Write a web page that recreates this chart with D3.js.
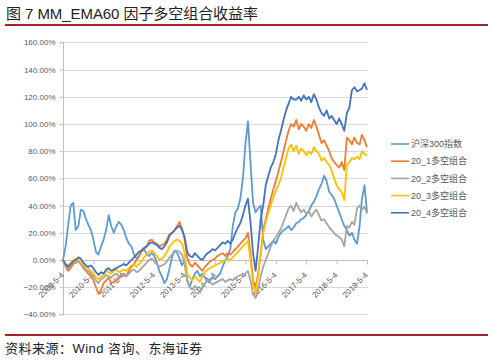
<!DOCTYPE html>
<html><head><meta charset="utf-8">
<script src="https://cdn.jsdelivr.net/npm/d3@7"></script>
<style>
html,body{margin:0;padding:0;background:#fff;}
svg{display:block;}
</style></head>
<body>
<svg id="chart" width="494" height="362"></svg>
<script>
// ---- data (monthly readings, 2009-05 .. 2019-05, values in %) ----
const startMonth = "2009-05";
const seriesNames = ["沪深300指数", "20_1多空组合", "20_2多空组合", "20_3多空组合", "20_4多空组合"];
const seriesColors = ["#5B9BD5", "#ED7D31", "#A5A5A5", "#FFC000", "#4472C4"];
const xTickLabels = ["2009-5-4","2010-5-4","2011-5-4","2012-5-4","2013-5-4","2014-5-4","2015-5-4","2016-5-4","2017-5-4","2018-5-4","2019-5-4"];
const yTicks = [-40, -20, 0, 20, 40, 60, 80, 100, 120, 140, 160];

const hs300 = [0,10,25,40,42,22,25,37,36,30,26,22,15,6,4,10,15,22,33,25,20,25,28,26,22,16,12,10,4,1,3,7,8,4,3,5,3,-2,-8,-12,-17,-14,-6,2,7,5,1,-4,0,-15,-20,-14,-10,-8,-12,-10,-13,-14,-15,-13,-14,-12,-10,-5,0,3,8,25,35,38,45,60,85,102,72,42,35,38,40,15,8,10,12,14,12,17,20,22,23,25,22,24,27,28,30,31,33,36,40,43,47,52,56,62,58,50,48,45,40,35,30,25,22,18,20,15,12,25,45,55,35];
const g1 = [0,-5,-8,-6,-3,-2,-1,-3,-6,-8,-10,-12,-15,-20,-25,-22,-17,-15,-13,-17,-16,-15,-13,-12,-10,-12,-8,-5,-3,0,3,6,8,10,14,15,13,12,10,11,12,15,19,20,22,25,28,23,15,2,-3,-5,-2,-4,-6,-8,-5,-3,-1,0,1,3,4,5,3,5,4,6,8,10,12,14,16,20,5,-15,-20,-10,5,22,30,38,45,52,58,65,72,80,88,95,100,98,103,96,100,98,95,100,97,103,98,92,86,88,84,80,75,72,70,68,72,66,90,88,85,90,86,85,92,88,83];
const g2 = [0,-4,-6,-4,-1,0,-1,-3,-5,-7,-8,-10,-12,-15,-17,-14,-13,-11,-12,-13,-11,-10,-12,-11,-10,-12,-10,-8,-7,-9,-8,-6,-4,-2,0,1,-1,-3,-5,-4,-3,-1,2,4,6,7,6,4,-3,-15,-20,-22,-19,-21,-24,-20,-17,-15,-16,-18,-17,-16,-15,-14,-16,-15,-14,-15,-13,-12,-11,-12,-10,-8,-15,-25,-28,-22,-12,-5,0,5,10,14,17,20,23,28,33,38,40,36,42,38,35,37,34,36,32,35,37,33,29,30,27,24,22,20,18,17,15,10,25,24,28,26,38,40,37,39,34];
const g3 = [0,-3,-4,-2,0,1,0,-2,-3,-5,-6,-8,-10,-13,-14,-12,-11,-8,-9,-10,-8,-7,-9,-8,-7,-8,-6,-4,-3,-5,-3,-1,2,4,6,7,5,3,0,1,3,6,10,12,14,15,14,12,5,-10,-13,-15,-12,-14,-16,-12,-9,-7,-6,-5,-4,-3,-2,-1,0,1,0,2,4,6,8,10,12,14,0,-18,-24,-12,5,20,28,35,40,46,51,55,60,68,75,82,85,80,84,78,82,80,77,80,78,83,80,78,73,75,72,70,66,60,55,52,50,44,70,72,75,74,76,74,80,78,77];
const g4 = [0,-3,-5,-3,-1,0,2,1,-2,-4,-5,-4,-6,-9,-11,-9,-10,-7,-6,-8,-7,-6,-5,-4,-3,-4,-2,0,2,4,6,7,9,10,12,13,12,11,9,8,10,13,18,20,22,24,25,22,17,6,3,2,5,3,1,0,3,5,6,8,7,9,11,13,12,14,12,15,20,24,27,33,40,45,28,5,-8,10,30,40,55,62,68,72,78,88,95,103,110,115,120,118,118,120,117,121,118,120,116,122,118,112,108,106,110,104,106,103,100,104,100,95,108,112,125,127,124,125,126,130,125];
const seriesValues = [hs300, g1, g2, g3, g4];

// ---- layout ----
const svg = d3.select("#chart");
const plot = {left: 63, right: 367, top: 42.4, bottom: 314.4};
const tickDates = xTickLabels.map(s => { const p = s.split("-"); return new Date(+p[0], +p[1]-1, +p[2]); });
const x = d3.scaleTime().domain([tickDates[0], tickDates[tickDates.length-1]]).range([plot.left, plot.right]);
const y = d3.scaleLinear().domain([-40, 160]).range([plot.bottom, plot.top]);

const m0 = d3.timeParse("%Y-%m")(startMonth);
const dates = hs300.map((_, i) => new Date(m0.getFullYear(), m0.getMonth() + i, 4));

// title
svg.append("text").attr("x", 6).attr("y", 18.5)
  .attr("font-family", "'Liberation Sans','Noto Sans CJK SC',sans-serif")
  .attr("font-size", 15).attr("fill", "#222")
  .attr("textLength", 252).attr("lengthAdjust", "spacing")
  .text("图 7 MM_EMA60 因子多空组合收益率");
svg.append("rect").attr("x", 5).attr("y", 24).attr("width", 483).attr("height", 2).attr("fill", "#A8202A");

// gridlines
svg.append("g").selectAll("line").data(yTicks.filter(v => v !== 0)).join("line")
  .attr("x1", plot.left).attr("x2", plot.right + 1)
  .attr("y1", d => Math.round(y(d)) + 0.5).attr("y2", d => Math.round(y(d)) + 0.5)
  .attr("stroke", "#d9d9d9").attr("stroke-width", 1);

// y axis
const yAxis = d3.axisLeft(y).tickValues(yTicks).tickSize(4).tickPadding(4)
  .tickFormat(d => d3.format(".2f")(d) + "%");
const gy = svg.append("g").attr("transform", `translate(${plot.left + 0.5},0)`).call(yAxis);
gy.select(".domain").attr("stroke", "#bfbfbf").attr("d", `M-4,${y(160)}H0V${y(-40)}H-4`);
gy.selectAll(".tick line").attr("stroke", "#bfbfbf");
gy.selectAll(".tick text").attr("font-family", "'Liberation Sans',Arial,sans-serif")
  .attr("font-size", 8).attr("fill", "#595959");

// x axis at zero (drawn beneath the lines)
const xAxis = d3.axisBottom(x).tickValues(tickDates).tickSize(4).tickFormat((d, i) => xTickLabels[i]);
const gx = svg.append("g").attr("transform", `translate(0,${Math.round(y(0)) + 0.5})`).call(xAxis);
gx.select(".domain").attr("stroke", "#bfbfbf").attr("d", `M${plot.left},0H${plot.right + 1}`);
gx.selectAll(".tick line").attr("stroke", "#bfbfbf");
gx.selectAll(".tick text")
  .attr("font-family", "'Liberation Sans',Arial,sans-serif")
  .attr("font-size", 8).attr("fill", "#595959")
  .attr("text-anchor", "end").attr("dy", null).attr("y", 0)
  .attr("transform", "translate(1,15) rotate(-45)");

// lines
const line = d3.line().x((d, i) => x(dates[i])).y(d => y(d));
svg.append("g").selectAll("path").data(seriesValues).join("path")
  .attr("d", d => line(d)).attr("fill", "none")
  .attr("stroke", (d, i) => seriesColors[i]).attr("stroke-width", 1.8)
  .attr("stroke-linejoin", "round");

// legend
const lg = svg.append("g");
seriesNames.forEach((name, i) => {
  const ly = 144 + i * 17.2;
  lg.append("line").attr("x1", 391).attr("x2", 409).attr("y1", ly).attr("y2", ly)
    .attr("stroke", seriesColors[i]).attr("stroke-width", 1.6);
  lg.append("text").attr("x", 411).attr("y", ly + 3.2)
    .attr("font-family", "'Liberation Sans','Noto Sans CJK SC',sans-serif")
    .attr("font-size", 9).attr("fill", "#595959").text(name);
});

// footer
svg.append("rect").attr("x", 5).attr("y", 334).attr("width", 483).attr("height", 2).attr("fill", "#A8202A");
svg.append("text").attr("x", 5).attr("y", 352.5)
  .attr("font-family", "'Liberation Sans','Noto Sans CJK SC',sans-serif")
  .attr("font-size", 13).attr("fill", "#222")
  .attr("textLength", 197).attr("lengthAdjust", "spacing")
  .text("资料来源：Wind 咨询、东海证券");
</script>
</body></html>
